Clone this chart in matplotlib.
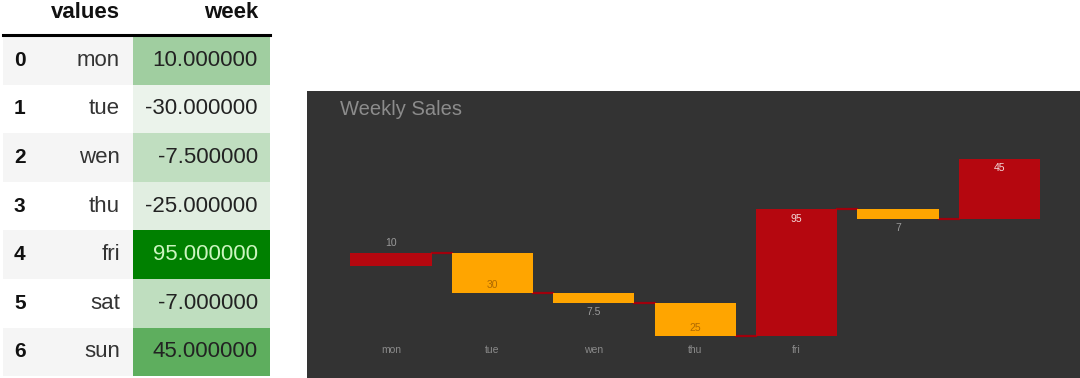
import numpy as np
import matplotlib
matplotlib.use("Agg")
import matplotlib.pyplot as plt
from matplotlib.patches import Rectangle
import seaborn as sns

plt.rcParams['font.family'] = ['Liberation Sans', 'DejaVu Sans']

# data
days = ['mon', 'tue', 'wen', 'thu', 'fri', 'sat', 'sun']
week = [10, -30, -7.5, -25, 95, -7, 45]
shown_ticks = 5  # only mon..fri labels are visible in the reference

RED = '#b5070f'
ORANGE = '#ffa500'
PANEL = '#333333'

fig = plt.figure(figsize=(10.8, 3.78), dpi=100)

# ---- left: styled dataframe table (drawn on a pixel canvas) ----
canvas = fig.add_axes([0, 0, 1, 1])
canvas.set_xlim(0, 1080)
canvas.set_ylim(378, 0)
canvas.axis('off')

cmap = sns.light_palette("green", as_cmap=True)
vmin, vmax = min(week), max(week)

row_top, row_h = 36, 48.6
canvas.text(120, 12, 'values', ha='right', va='center', fontsize=16, fontweight='bold', color='#111')
canvas.text(258, 12, 'week', ha='right', va='center', fontsize=16, fontweight='bold', color='#111')
canvas.plot([3, 270], [34.5, 34.5], color='black', lw=2.2)

for i, (d, v) in enumerate(zip(days, week)):
    y0 = row_top + i * row_h
    yc = y0 + row_h / 2
    if i % 2 == 0:
        canvas.add_patch(Rectangle((3, y0), 130, row_h, color='#f5f5f5', lw=0))
    norm = (v - vmin) / (vmax - vmin)
    canvas.add_patch(Rectangle((133, y0), 137, row_h, color=cmap(norm), lw=0))
    tcol = '#ccf5c0' if norm > 0.8 else '#222222'
    canvas.text(14, yc, str(i), ha='left', va='center', fontsize=15, fontweight='bold', color='#111')
    canvas.text(120, yc, d, ha='right', va='center', fontsize=16, color='#333')
    canvas.text(258, yc, f'{v:.6f}', ha='right', va='center', fontsize=16, color=tcol)

# ---- right: waterfall chart ----
ax = fig.add_axes([307 / 1080, 0, 773 / 1080, 287 / 378])
ax.set_facecolor(PANEL)
for s in ax.spines.values():
    s.set_visible(False)
ax.set_xticks([])
ax.set_yticks([])

x = np.arange(len(days))
vals = np.array(week, dtype=float)
ends = np.cumsum(vals)
starts = ends - vals
colors = [RED if v > 0 else ORANGE for v in vals]
width = 0.8

ax.bar(x, vals, bottom=starts, width=width, color=colors, zorder=2)

# connectors
for i in range(len(x) - 1):
    ax.plot([x[i] + width / 2, x[i + 1] - width / 2], [ends[i], ends[i]],
            color='#a0000c', lw=1.6, zorder=1)

# value labels
for i, v in enumerate(vals):
    lab = f'{abs(v):g}'
    big = abs(v) > 20
    if v > 0:
        if big:
            ax.text(x[i], ends[i] - 7, lab, ha='center', va='center', fontsize=7.5, color='#f4dada')
        else:
            ax.text(x[i], ends[i] + 7, lab, ha='center', va='center', fontsize=7.5, color='#9a9a9a')
    else:
        if big:
            ax.text(x[i], ends[i] + 6, lab, ha='center', va='center', fontsize=7.5, color='#b06a00')
        else:
            ax.text(x[i], ends[i] - 7, lab, ha='center', va='center', fontsize=7.5, color='#9a9a9a')

for i in range(shown_ticks):
    ax.text(x[i], -63, days[i], ha='center', va='center', fontsize=7.5, color='#8a8a8a')

ax.set_xlim(-0.828, 6.795)
ax.set_ylim(-84.2, 131.6)
ax.text(0.043, 0.935, 'Weekly Sales', transform=ax.transAxes, ha='left', va='center',
        fontsize=14.5, color='#8c8c8c')

fig.savefig('out.png', dpi=100, facecolor='white')
